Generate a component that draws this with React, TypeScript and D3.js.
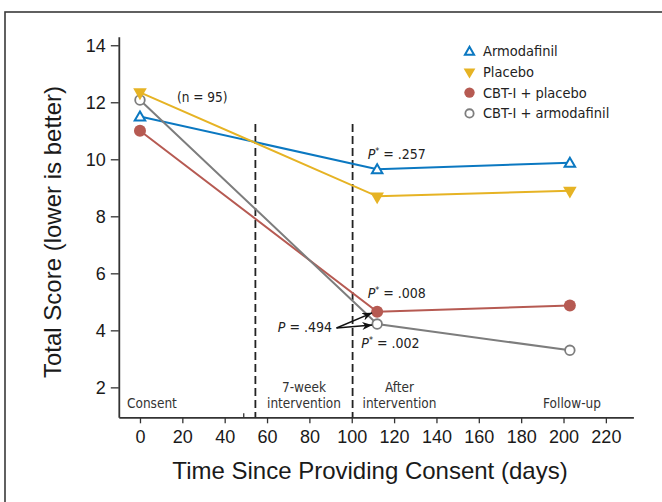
import React from "react";
import * as d3 from "d3";

// days since consent at each assessment
const days = [0, 112, 203];
const armodafinil = [11.5, 9.65, 9.88];
const placebo = [12.35, 8.7, 8.9];
const cbtPlacebo = [11.0, 4.65, 4.87];
const cbtArmodafinil = [12.08, 4.22, 3.3];

const seriesNames = ["Armodafinil", "Placebo", "CBT-I + placebo", "CBT-I + armodafinil"];
const xTicks = [0, 20, 40, 60, 80, 100, 120, 140, 160, 180, 200, 220];
const yTicks = [2, 4, 6, 8, 10, 12, 14];
const phaseBounds = [54.5, 100.4];
const pValues = [".257", ".008", ".002"];

const W = 662;
const H = 502;
const narrow = "'Liberation Sans Narrow', 'DejaVu Sans Condensed', 'Roboto Condensed', Arial, sans-serif";
const sans = "'Liberation Sans', Arial, Helvetica, sans-serif";

export default function App() {
  const svgRef = React.useRef<SVGSVGElement>(null);

  React.useEffect(() => {
    const svg = d3.select(svgRef.current);
    svg.selectAll("*").remove();

    const x = d3.scaleLinear().domain([-10, 233]).range([118.8, 633.4]);
    const y = d3.scaleLinear().domain([0.95, 14.3]).range([417.3, 36.7]);

    // outer frame
    svg.append("rect")
      .attr("x", 5).attr("y", 12).attr("width", 720).attr("height", 600)
      .attr("fill", "none").attr("stroke", "#3a3a3a").attr("stroke-width", 1.6);

    const defs = svg.append("defs");
    defs.append("marker")
      .attr("id", "arrow").attr("viewBox", "0 0 10 8")
      .attr("refX", 10).attr("refY", 4)
      .attr("markerWidth", 10).attr("markerHeight", 8)
      .attr("markerUnits", "userSpaceOnUse")
      .attr("orient", "auto")
      .append("path").attr("d", "M0,0 L10,4 L0,8 L3,4 Z").attr("fill", "#111");

    // axes
    const xAxis = svg.append("g").attr("transform", `translate(0,${y(0.95)})`)
      .call(d3.axisBottom(x).tickValues(xTicks).tickSize(6).tickSizeOuter(0).tickPadding(5));
    const yAxis = svg.append("g").attr("transform", `translate(${x(-10)},0)`)
      .call(d3.axisLeft(y).tickValues(yTicks).tickSize(8).tickSizeOuter(0).tickPadding(5));
    [xAxis, yAxis].forEach(g => {
      g.select(".domain").attr("stroke", "#333").attr("stroke-width", 1.8);
      g.selectAll(".tick line").attr("stroke", "#333").attr("stroke-width", 1.3);
      g.selectAll(".tick text")
        .attr("fill", "#1a1a1a").attr("font-family", sans).attr("font-size", 18);
    });
    xAxis.selectAll(".tick text").attr("dy", "0.8em");
    // small break tick on x axis
    svg.append("line")
      .attr("x1", x(49)).attr("x2", x(49))
      .attr("y1", y(0.95)).attr("y2", y(0.95) - 4)
      .attr("stroke", "#333").attr("stroke-width", 1.3);

    // phase boundaries
    phaseBounds.forEach(d => {
      svg.append("line")
        .attr("x1", x(d)).attr("x2", x(d))
        .attr("y1", 124).attr("y2", y(0.95))
        .attr("stroke", "#222").attr("stroke-width", 1.8)
        .attr("stroke-dasharray", "8,4");
    });

    const phase = (lines: string[], cx: number, anchor: string) => {
      const t = svg.append("text")
        .attr("font-family", narrow).attr("font-size", 13.5).attr("fill", "#333")
        .attr("text-anchor", anchor);
      lines.forEach((l, i) => {
        t.append("tspan").attr("x", cx)
          .attr("y", 408 - (lines.length - 1 - i) * 16.5).text(l);
      });
    };
    phase(["Consent"], 127, "start");
    phase(["7-week", "intervention"], (x(54.5) + x(100.4)) / 2, "middle");
    phase(["After", "intervention"], 399.5, "middle");
    phase(["Follow-up"], 572, "middle");

    // series
    const series = [
      { name: seriesNames[0], values: armodafinil, color: "#0b78c1", shape: "triUp" },
      { name: seriesNames[1], values: placebo, color: "#e6b324", shape: "triDown" },
      { name: seriesNames[2], values: cbtPlacebo, color: "#b65a52", shape: "dot" },
      { name: seriesNames[3], values: cbtArmodafinil, color: "#7d7d7d", shape: "ring" },
    ];

    const line = d3.line<number>().x((_, i) => x(days[i])).y(d => y(d));

    const drawMarker = (g: any, shape: string, color: string, cx: number, cy: number, scale = 1) => {
      if (shape === "triUp") {
        g.append("path")
          .attr("d", d3.symbol(d3.symbolTriangle, 48 * scale)())
          .attr("transform", `translate(${cx},${cy + 1})`)
          .attr("fill", "#fff").attr("stroke", color).attr("stroke-width", 2);
      } else if (shape === "triDown") {
        g.append("path")
          .attr("d", d3.symbol(d3.symbolTriangle, 80 * scale)())
          .attr("transform", `translate(${cx},${cy}) rotate(180)`)
          .attr("fill", color);
      } else if (shape === "dot") {
        g.append("circle").attr("cx", cx).attr("cy", cy).attr("r", 6 * Math.sqrt(scale))
          .attr("fill", color);
      } else {
        g.append("circle").attr("cx", cx).attr("cy", cy).attr("r", 4.8 * Math.sqrt(scale))
          .attr("fill", "#fff").attr("stroke", color).attr("stroke-width", 1.8);
      }
    };

    series.forEach(s => {
      svg.append("path").datum(s.values)
        .attr("d", line)
        .attr("fill", "none").attr("stroke", s.color).attr("stroke-width", 2);
    });
    series.slice().reverse().forEach(s => {
      s.values.forEach((v, i) => drawMarker(svg, s.shape, s.color, x(days[i]), y(v)));
    });

    // legend
    series.forEach((s, i) => {
      const ly = 51 + i * 20.8;
      drawMarker(svg, s.shape, s.color, 469.5, ly, 0.75);
      svg.append("text")
        .attr("x", 483).attr("y", ly).attr("dy", "0.35em")
        .attr("font-family", narrow).attr("font-size", 14.5).attr("fill", "#222")
        .text(s.name);
    });

    // annotations
    svg.append("text")
      .attr("x", 177).attr("y", 97).attr("dy", "0.35em")
      .attr("font-family", narrow).attr("font-size", 13.5).attr("fill", "#222")
      .text("(n = 95)");

    const pLabel = (px: number, py: number, val: string) => {
      const t = svg.append("text")
        .attr("x", px).attr("y", py).attr("dy", "0.35em")
        .attr("font-family", narrow).attr("font-size", 14).attr("fill", "#222");
      t.append("tspan").attr("font-style", "italic").text("P");
      t.append("tspan").attr("font-size", 9).attr("dy", "-0.55em").text("*");
      t.append("tspan").attr("dy", "0.35em").text(` = ${val}`);
    };
    pLabel(x(107.5), y(armodafinil[1]) - 15, pValues[0]);
    pLabel(x(107.5), y(cbtPlacebo[1]) - 19, pValues[1]);
    pLabel(x(104.5), y(cbtArmodafinil[1]) + 19, pValues[2]);

    svg.append("text")
      .attr("x", 332).attr("y", 327).attr("dy", "0.35em")
      .attr("text-anchor", "end")
      .attr("font-family", narrow).attr("font-size", 14).attr("fill", "#222")
      .html("<tspan font-style='italic'>P</tspan> = .494");

    const ox = x(92.8);
    const oy = 328;
    [cbtPlacebo[1], cbtArmodafinil[1]].forEach(v => {
      svg.append("line")
        .attr("x1", ox).attr("y1", oy)
        .attr("x2", x(112) - 5).attr("y2", y(v) + 1)
        .attr("stroke", "#111").attr("stroke-width", 1.5)
        .attr("marker-end", "url(#arrow)");
    });

    // axis titles
    svg.append("text")
      .attr("x", 370).attr("y", 479)
      .attr("text-anchor", "middle")
      .attr("font-family", sans).attr("font-size", 24).attr("fill", "#1a1a1a")
      .text("Time Since Providing Consent (days)");
    svg.append("text")
      .attr("transform", `translate(61,232) rotate(-90)`)
      .attr("text-anchor", "middle")
      .attr("font-family", sans).attr("font-size", 24).attr("fill", "#1a1a1a")
      .text("Total Score (lower is better)");
  }, []);

  return (
    <svg ref={svgRef} width={W} height={H}
      style={{ position: "absolute", left: 0, top: 0, background: "#fff" }} />
  );
}
